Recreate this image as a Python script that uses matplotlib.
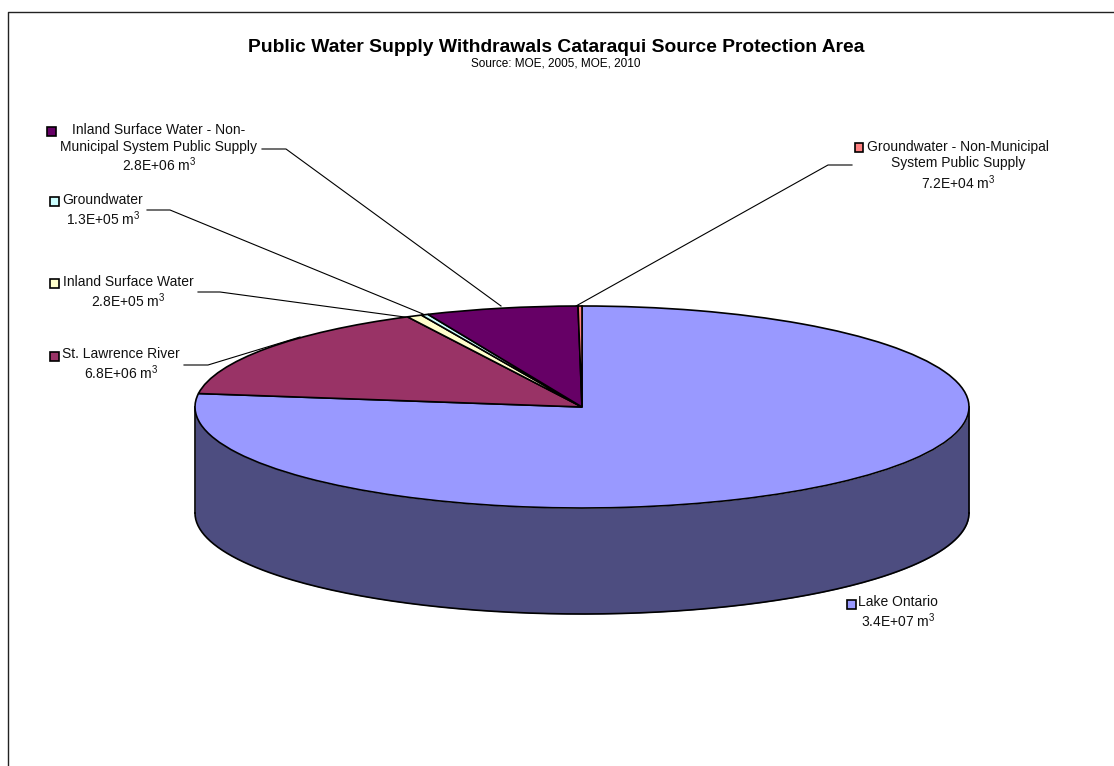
"""Public water supply withdrawals, 3D-look pie (Excel style)."""
import numpy as np
import matplotlib
matplotlib.use("Agg")
import matplotlib.pyplot as plt
from matplotlib.patches import Rectangle

plt.rcParams["font.family"] = ["Liberation Sans", "DejaVu Sans"]
plt.rcParams["mathtext.fontset"] = "custom"
plt.rcParams["mathtext.rm"] = "Liberation Sans"
plt.rcParams["mathtext.default"] = "regular"

# clockwise from 12 o'clock
categories = ["Lake Ontario", "St. Lawrence River", "Inland Surface Water", "Groundwater",
              "Inland Surface Water - Non-Municipal System Public Supply",
              "Groundwater - Non-Municipal System Public Supply"]
values = [3.4e7, 6.8e6, 2.8e5, 1.3e5, 2.8e6, 7.2e4]
value_labels = ["3.4E+07", "6.8E+06", "2.8E+05", "1.3E+05", "2.8E+06", "7.2E+04"]
colors = ["#9999FF", "#993366", "#FFFFCC", "#CCFFFF", "#660066", "#FF8080"]
SIDE = "#4D4D80"

W, H = 1114, 766
CX, CY, RX, RY, DEPTH = 582, 407, 387, 101, 106

fig = plt.figure(figsize=(W / 100, H / 100), dpi=100)

# overlay in pixel coords for frame, text and leader lines
bg = fig.add_axes([0, 0, 1, 1])
bg.set_xlim(0, W); bg.set_ylim(H, 0); bg.axis("off")
bg.plot([8, 8, W], [H, 12, 12], color="#222222", lw=1)

ax = fig.add_axes([(CX - RX) / W, 1 - (CY + RY) / H, 2 * RX / W, 2 * RY / H])
ax.pie(values, colors=colors, startangle=90, counterclock=False, radius=1,
       wedgeprops=dict(edgecolor="black", linewidth=1.2, clip_on=False))
ax.set_aspect("auto")
ax.set_xlim(-1, 1); ax.set_ylim(-1, 1)

# side wall below the front half of the ellipse
t = np.linspace(np.pi, 2 * np.pi, 200)
drop = 2 * DEPTH / (2 * RY)
ax.fill_between(np.cos(t), np.sin(t), np.sin(t) - drop, color=SIDE, lw=0, clip_on=False, zorder=0)
ax.plot(np.cos(t), np.sin(t) - drop, color="black", lw=1.2, clip_on=False, zorder=0.5)
ax.plot([-1, -1], [0, -drop], color="black", lw=1.2, clip_on=False, zorder=0.5)
ax.plot([1, 1], [0, -drop], color="black", lw=1.2, clip_on=False, zorder=0.5)

bg.text(556, 47, "Public Water Supply Withdrawals Cataraqui Source Protection Area",
        ha="center", va="center", fontsize=13.85, fontweight="bold")
bg.text(556, 64, "Source: MOE, 2005, MOE, 2010", ha="center", va="center", fontsize=8.5)

FS = 10


def label(lines, cx, ys, key, kx, ky):
    for y, s in zip(ys, lines):
        bg.text(cx, y + 4.5, s, ha="center", va="baseline", fontsize=FS, color="#111111")
    bg.add_patch(Rectangle((kx, ky), 8.5, 8.5, fc=key, ec="black", lw=1.2))


def m3(v):
    return f"{v} m$^3$"


label(["Inland Surface Water - Non-", "Municipal System Public Supply", m3(value_labels[4])],
      159, [129, 147, 167], colors[4], 47, 127)
label(["Groundwater", m3(value_labels[3])], 103, [199, 220], colors[3], 50, 197)
label(["Inland Surface Water", m3(value_labels[2])], 128, [281, 302], colors[2], 50, 279)
label(["St. Lawrence River", m3(value_labels[1])], 121, [354, 375], colors[1], 50, 352)
label(["Groundwater - Non-Municipal", "System Public Supply", m3(value_labels[5])],
      958, [147, 163, 184], colors[5], 854.5, 143)
label(["Lake Ontario", m3(value_labels[0])], 898, [602, 623], colors[0], 847, 600)

leaders = [([262, 286, 501], [149, 149, 306]),
           ([147, 170, 423], [210, 210, 314]),
           ([198, 220, 412], [292, 292, 318]),
           ([184, 208, 300], [365, 365, 337]),
           ([852, 828, 576], [165, 165, 306])]
for xs, ys in leaders:
    bg.plot(xs, ys, color="black", lw=0.8)

fig.savefig("out.png", dpi=100)
